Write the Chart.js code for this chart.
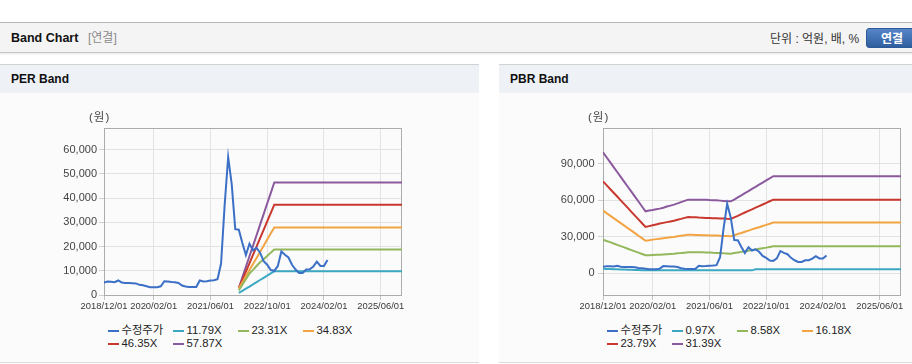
<!DOCTYPE html>
<html><head><meta charset="utf-8">
<script src="https://cdn.jsdelivr.net/npm/chart.js@4.4.1/dist/chart.umd.min.js"></script>
<style>
*{margin:0;padding:0;box-sizing:border-box}
body{width:912px;height:364px;overflow:hidden;background:#fff;position:relative;font-family:"Liberation Sans",Arial,"Noto Sans CJK KR",sans-serif;color:#222}
.abs{position:absolute;white-space:nowrap}
.topline{left:0;top:22px;width:912px;height:1px;background:#b8b8b8}
.hdr{left:0;top:23px;width:912px;height:30px;background:#f4f4f4;border-bottom:1px solid #c6c6c6;box-shadow:0 1px 2px rgba(0,0,0,0.10)}
.hdr .t{position:absolute;left:11px;top:7px;font-weight:bold;font-size:12.5px;line-height:16px;color:#111}
.hdr .sub{position:absolute;left:88px;top:7px;font-size:12px;line-height:16px;color:#8a8a8a}
.hdr .unit{position:absolute;left:770px;top:8px;font-size:12px;line-height:16px;color:#333}
.hdr .btn{position:absolute;left:866px;top:5px;width:52px;height:20px;border-radius:3px;background:linear-gradient(#5585c8,#2f5f9f);color:#fff;font-weight:bold;font-size:12px;line-height:20px;padding-left:14px;border:1px solid #2d5a96}
.panel{top:64px;height:299px;border-top:1px solid #d2d2d2;border-bottom:1px solid #dcdcdc;background:#fbfbfb}
.panel .ph{height:28px;background:#eef2f7;font-weight:bold;font-size:12px;line-height:28px;padding-left:11px;color:#111}
.unitlbl{font-size:11.5px;color:#444;line-height:14px;letter-spacing:1px}
.legend{position:absolute;left:0;top:0;width:0;height:0}
.li{position:absolute;font-size:11.3px;line-height:13px;color:#222;white-space:nowrap}
.li i{position:absolute;left:0;top:6px;width:11px;height:2px}
.li span{position:absolute;left:14px;top:0}
</style>
</head><body>
<div class="abs topline"></div>
<div class="abs hdr"><span class="t">Band Chart</span><span class="sub">[연결]</span><span class="unit">단위 : 억원, 배, %</span><span class="btn">연결</span></div>
<div class="abs panel" style="left:0;width:479px"><div class="ph">PER Band</div></div>
<div class="abs panel" style="left:499px;width:413px"><div class="ph">PBR Band</div></div>
<div class="abs" style="left:0;top:93px"><canvas id="perChart" width="479" height="230" style="width:479px;height:230px"></canvas></div>
<div class="abs" style="left:499px;top:93px"><canvas id="pbrChart" width="413" height="230" style="width:413px;height:230px"></canvas></div>
<div class="abs unitlbl" style="left:89px;top:110px">(원)</div>
<div class="abs unitlbl" style="left:588px;top:110px">(원)</div>
<div id="perLegend" class="legend"></div>
<div id="pbrLegend" class="legend"></div>
<script>
// ---- data ----
const xTickMonths = [0, 14, 30, 46, 62, 78];            // months after 2018/12/01
const xTickLabels = ['2018/12/01','2020/02/01','2021/06/01','2022/10/01','2024/02/01','2025/06/01'];
const xMaxMonth = 84;                                   // 2025/12/01

const perYTicks = [0,10000,20000,30000,40000,50000,60000];
const pbrYTicks = [0,30000,60000,90000];

const priceLabel = '수정주가';
// monthly adjusted price from 2018/12 (index 0) to 2024/03 (index 63)
const price = [5200,5600,5500,5300,6000,5200,5000,5000,4900,4800,4200,4000,3600,3200,3200,3200,
  3600,5700,5600,5400,5300,5000,3900,3500,3300,3300,3300,6000,5600,5700,6000,6100,
  6500,13000,37000,57000,45800,27200,27000,21500,16500,21200,18500,19500,17500,14000,
  12500,10300,10000,12000,18000,16600,15500,12500,10500,9100,9100,10500,10600,11800,13800,12000,12000,14500];

const perBandLabels = ['11.79X','23.31X','34.83X','46.35X','57.87X'];
const perBandMonths = [38,39,40,41,42,43,44,45,46,47,48,84];
const per1179 = [840,1700,2600,3500,4400,5300,6200,7100,8000,8900,9800,9800];
const per2331 = [1900,4200,6500,8900,10400,12000,13500,14800,16100,17500,18800,18800];
const per3483 = [2700,5200,7700,10300,12800,15300,17800,20300,22900,25400,27900,27900];
const per4635 = [2800,6250,9700,13100,16600,20000,23500,26900,30400,33800,37300,37300];
const per5787 = [2900,7300,11600,16000,20300,24700,29100,33400,37800,42100,46500,46500];

const pbrBandLabels = ['0.97X','8.58X','16.18X','23.79X','31.39X'];
const pbrBandMonths = Array.from({length:49},(_,i)=>i).concat([84]);
const pbr097 = [3500,3400,3300,3200,3100,2900,2800,2700,2600,2500,2400,2300,2200,
  2200,2200,2200,2200,2200,2200,2200,2200,2200,2200,2200,2200,
  2200,2200,2200,2200,2200,2200,2200,2200,2200,2200,2200,2200,
  2200,2200,2200,2200,2200,2200,3000,3000,3000,3000,3000,3000, 3000];
const pbr858 = [27500,26400,25400,24300,23200,22100,21100,20000,18900,17800,16800,15700,14600,
  14700,14900,15000,15100,15300,15500,15700,15900,16200,16400,16700,17000,
  17000,17000,17000,17000,16900,16800,16600,16500,16400,16200,16100,15900,
  16400,16900,17400,17900,18400,18900,19400,19900,20400,20900,21500,22000, 22000];
const pbr1618 = [51400,49300,47300,45200,43100,41100,39000,36900,34900,32800,30700,28700,26600,
  27000,27500,27900,28300,28700,29000,29400,29700,30200,30700,31100,31600,
  31500,31300,31200,31000,31000,30900,30900,30800,30700,30500,30400,30200,
  31100,32100,33000,34000,34900,35900,36800,37700,38700,39600,40600,41500, 41500];
const pbr2379 = [75500,72400,69200,66100,63000,59800,56700,53600,50400,47300,44200,41000,37900,
  38600,39300,40000,40700,41300,41900,42500,43100,43900,44600,45400,46100,
  46000,45900,45700,45600,45400,45300,45100,45000,44900,44800,44600,44500,
  45800,47100,48500,49800,51100,52400,53800,55100,56400,57800,59100,60400, 60400];
const pbr3139 = [99400,95300,91300,87200,83200,79100,75100,71000,67000,62900,58900,54800,50800,
  51400,51900,52500,53000,53800,54700,55500,56300,57300,58400,59400,60400,
  60400,60400,60400,60400,60300,60100,60000,59900,59600,59300,59000,59000,
  60500,62300,64000,65800,67500,69300,71000,72800,74500,76300,78000,79700, 79700];

const colors = ['#3b70c6','#3da8c1','#93b85b','#f2a443','#c8382e','#8b5a9e'];

// ---- helpers ----
function hasFont(f){
  const c=document.createElement('canvas').getContext('2d');
  c.font='20px monospace'; const w1=c.measureText('2018/12/01 abcXYZ').width;
  c.font='20px "'+f+'", monospace'; return c.measureText('2018/12/01 abcXYZ').width!==w1;
}
const narrow = hasFont('Liberation Sans Narrow');
const xFont = narrow ? {family:'"Liberation Sans Narrow"', size:10.5} : {family:'"Liberation Sans", Arial', size:9.4};
const yFont = {family:'"Liberation Sans", Arial', size:11};

const pts = (xs, ys) => xs.map((x,i)=>({x:x, y:ys[i]}));
const framePlugin = {id:'frame', beforeDatasetsDraw(chart){
  const {ctx, chartArea:a} = chart; ctx.save(); ctx.strokeStyle='#acacac'; ctx.lineWidth=1;
  ctx.strokeRect(a.left+0.5, a.top+0.5, a.right-a.left-1, a.bottom-a.top); ctx.restore(); }};

function makeChart(id, bandLabels, bandMonths, bands, yMin, yMax, yTicks, rightPad, yPad){
  const datasets = [{label:priceLabel, data:pts(price.map((_,i)=>i), price), borderColor:colors[0]}];
  bands.forEach((b,k)=>datasets.push({label:bandLabels[k], data:pts(bandMonths,b), borderColor:colors[k+1]}));
  return new Chart(document.getElementById(id), {
    type:'line',
    data:{datasets},
    options:{
      responsive:false, animation:false,
      layout:{padding:{left:44, right:rightPad, top:35, bottom:8}},
      plugins:{legend:{display:false}, tooltip:{enabled:false}},
      elements:{point:{radius:0}, line:{borderWidth:2, tension:0, fill:false}},
      scales:{
        x:{type:'linear', min:0, max:xMaxMonth,
          afterBuildTicks:s=>{s.ticks = xTickMonths.map(v=>({value:v}));},
          afterFit:s=>{s.height=20;},
          ticks:{autoSkip:false, maxRotation:0, padding:1, color:'#3a3a3a', font:xFont,
            callback:v=>xTickLabels[xTickMonths.indexOf(v)]},
          grid:{color:'#e3e3e3', tickLength:5, tickColor:'#c4c4c4'},
          border:{display:false}},
        y:{min:yMin, max:yMax,
          afterBuildTicks:s=>{s.ticks = yTicks.map(v=>({value:v}));},
          afterFit:s=>{s.width=60;},
          ticks:{padding:yPad, color:'#444', font:yFont, callback:v=>v.toLocaleString('en-US')},
          grid:{color:'#e3e3e3', tickLength:5, tickColor:'#d0d0d0'},
          border:{display:false}}
      }
    },
    plugins:[framePlugin]
  });
}

const perChart = makeChart('perChart', perBandLabels, perBandMonths, [per1179,per2331,per3483,per4635,per5787], 0, 69000, perYTicks, 77, 2);
const pbrChart = makeChart('pbrChart', pbrBandLabels, pbrBandMonths, [pbr097,pbr858,pbr1618,pbr2379,pbr3139], -18100, 119400, pbrYTicks, 11, 3.5);

function buildLegend(elId, chart, pageLeft){
  const el = document.getElementById(elId);
  const left0 = pageLeft + chart.chartArea.left + 3.5;
  chart.data.datasets.forEach((ds,i)=>{
    const d = document.createElement('div'); d.className='li';
    d.style.left = (left0 + (i%4)*65) + 'px';
    d.style.top = (323.5 + Math.floor(i/4)*13.5) + 'px';
    const m = document.createElement('i'); m.style.background = ds.borderColor;
    const t = document.createElement('span'); t.textContent = ds.label;
    d.appendChild(m); d.appendChild(t); el.appendChild(d);
  });
}
buildLegend('perLegend', perChart, 0);
buildLegend('pbrLegend', pbrChart, 499);
</script>
</body></html>
